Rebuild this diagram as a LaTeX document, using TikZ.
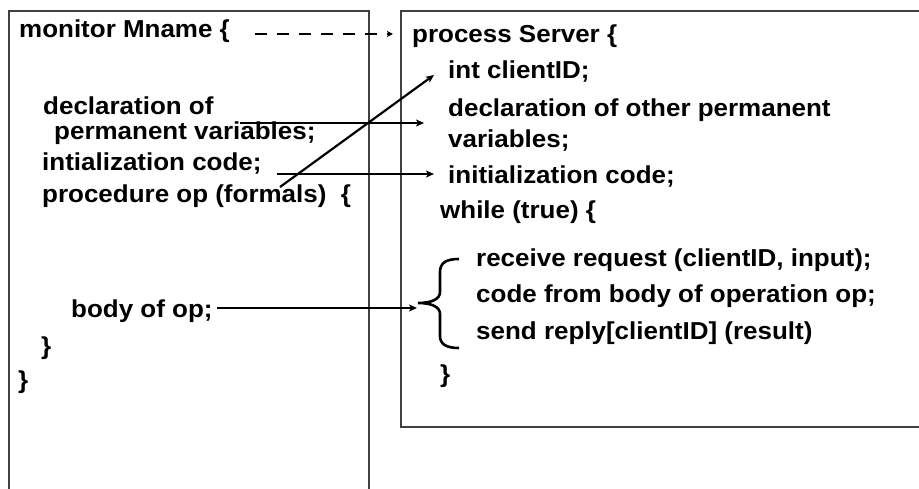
\documentclass[tikz,border=0pt]{standalone}
\usepackage{fontspec}
\setmainfont{Liberation Sans}[FakeStretch=1.06]
\usetikzlibrary{arrows.meta}
\begin{document}
\begin{tikzpicture}[x=1pt,y=-1pt,
  txt/.style={anchor=base west, inner sep=0pt, font=\fontsize{24.5}{28}\selectfont\bfseries},
  box/.style={draw=black!75, line width=1.3pt},
  conn/.style={line width=2.2pt, -{Stealth[length=8pt,width=7pt,inset=2pt]}},
  dconn/.style={line width=1.6pt, dash pattern=on 12pt off 10pt, -{Stealth[length=6pt,width=6pt,inset=1.5pt]}},
  bracestyle/.style={line width=2.6pt},
]
\useasboundingbox (0,0) rectangle (919,489);
\clip (0,0) rectangle (919,489);
\fill[white] (0,0) rectangle (919,489);
% boxes
\draw[box] (9,500) -- (9,11) -- (369,11) -- (369,500);
\draw[box] (930,427) -- (401,427) -- (401,11) -- (930,11);
% left text
\node[txt] (mon) at (19,38) {monitor Mname \{};
\node[txt] (decl1) at (43,115) {declaration of};
\node[txt] (decl2) at (54,140) {permanent variables;};
\node[txt] (init) at (42,171) {intialization code;};
\node[txt] (proc) at (42,203) {procedure op (formals)\ \ \{};
\node[txt] (body) at (71,318) {body of op;};
\node[txt] (cb1) at (41,354) {\}};
\node[txt] (cb2) at (18,388) {\}};
% right text
\node[txt] (srv) at (412,43) {process Server \{};
\node[txt] (cid) at (448,79) {int clientID;};
\node[txt] (odecl1) at (448,117) {declaration of other permanent};
\node[txt] (odecl2) at (448,148) {variables;};
\node[txt] (oinit) at (448,184) {initialization code;};
\node[txt] (whl) at (440,219) {while (true) \{};
\node[txt] (recv) at (476,267) {receive request (clientID, input);};
\node[txt] (code) at (476,303) {code from body of operation op;};
\node[txt] (send) at (476,340) {send reply[clientID] (result)};
\node[txt] (cb3) at (440,382) {\}};
% connector end points
\coordinate (ds) at (255,34);
\coordinate (de) at (393,34);
\coordinate (a1s) at (240,123);
\coordinate (a1e) at (424,123);
\coordinate (a2s) at (277,174);
\coordinate (a2e) at (434,174);
\coordinate (a3s) at (280,187);
\coordinate (a3e) at (434,75);
\coordinate (a4s) at (217,308);
\coordinate (a4e) at (417,308);
% connectors
\draw[dconn] (ds) -- (de);
\draw[conn] (a1s) -- (a1e);
\draw[conn] (a2s) -- (a2e);
\draw[conn] (a3s) -- (a3e);
\draw[conn] (a4s) -- (a4e);
% brace
\draw[bracestyle] (459,259) .. controls (446,259) and (440,263) .. (440,272) -- (440,292)
  .. controls (440,299) and (432,303) .. (418,303)
  .. controls (432,303) and (440,307) .. (440,314) -- (440,336)
  .. controls (440,344) and (446,348) .. (459,348);
\end{tikzpicture}
\end{document}
